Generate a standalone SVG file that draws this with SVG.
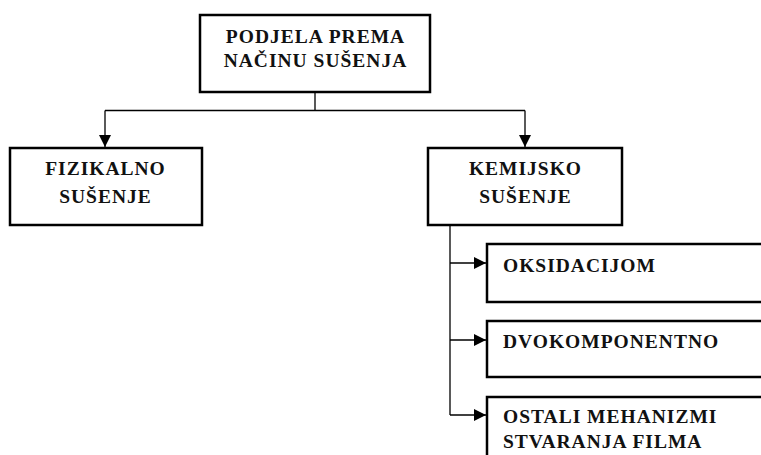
<svg xmlns="http://www.w3.org/2000/svg" width="761" height="455" viewBox="0 0 761 455">
<defs>
<style>
.box{fill:#fff;stroke:#000;stroke-width:2.5}
.t{font-family:"Liberation Serif","Times New Roman",serif;font-weight:bold;font-size:19.5px;letter-spacing:1px;fill:#111}
.c{text-anchor:middle}
.ln{fill:none;stroke:#000;stroke-width:1.3}
</style>
<marker id="ah" viewBox="0 0 10 10" refX="10" refY="5" markerWidth="12" markerHeight="12" markerUnits="userSpaceOnUse" orient="auto">
<path d="M0,0 L10,5 L0,10 Z" fill="#000"/>
</marker>
</defs>
<rect width="761" height="455" fill="#fff"/>
<g id="connectors">
<path class="ln" d="M315,92 V110.5 M105,110.5 H525"/>
<path class="ln" d="M105,110.5 V147" marker-end="url(#ah)"/>
<path class="ln" d="M525,110.5 V147" marker-end="url(#ah)"/>
<path class="ln" d="M450,225 V415"/>
<path class="ln" d="M450,263 H486" marker-end="url(#ah)"/>
<path class="ln" d="M450,340 H486" marker-end="url(#ah)"/>
<path class="ln" d="M450,415 H486" marker-end="url(#ah)"/>
</g>
<g id="root">
<rect class="box" x="200" y="15" width="230" height="77"/>
<text class="t c" x="315.5" y="43">PODJELA PREMA</text>
<text class="t c" x="315.5" y="67">NAČINU SUŠENJA</text>
</g>
<g id="fizikalno">
<rect class="box" x="10" y="148" width="192" height="77"/>
<text class="t c" x="105.5" y="175">FIZIKALNO</text>
<text class="t c" x="105.5" y="203">SUŠENJE</text>
</g>
<g id="kemijsko">
<rect class="box" x="428" y="148" width="194" height="77"/>
<text class="t c" x="525.5" y="175">KEMIJSKO</text>
<text class="t c" x="525.5" y="203">SUŠENJE</text>
</g>
<g id="oksidacijom">
<rect class="box" x="487" y="244" width="300" height="58"/>
<text class="t" x="503" y="272">OKSIDACIJOM</text>
</g>
<g id="dvokomponentno">
<rect class="box" x="487" y="321" width="300" height="56"/>
<text class="t" x="503" y="348">DVOKOMPONENTNO</text>
</g>
<g id="ostali">
<rect class="box" x="487" y="397" width="300" height="80"/>
<text class="t" x="503" y="423">OSTALI MEHANIZMI</text>
<text class="t" x="503" y="448">STVARANJA FILMA</text>
</g>
</svg>
